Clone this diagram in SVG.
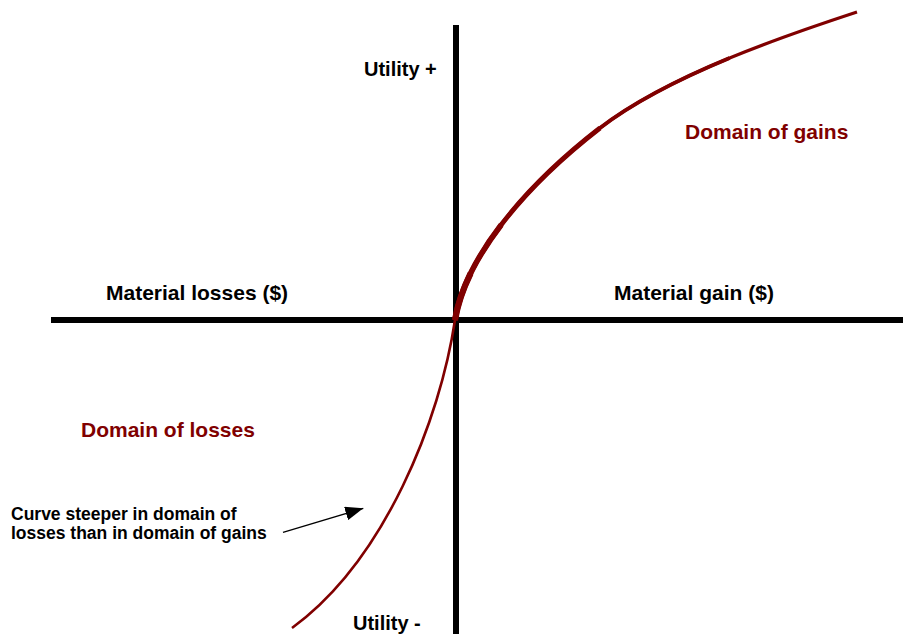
<svg xmlns="http://www.w3.org/2000/svg" width="903" height="634" viewBox="0 0 903 634">
  <style>
    .axis { stroke: #000000; stroke-width: 6; fill: none; }
    .curve { stroke: #800000; fill: none; stroke-linecap: butt; stroke-linejoin: round; }
    .lbl { font-family: "Liberation Sans", Arial, sans-serif; font-weight: bold; fill: #000000; }
    .dom { font-family: "Liberation Sans", Arial, sans-serif; font-weight: bold; fill: #800000; font-size: 21px; }
    .note { font-family: "Liberation Sans", Arial, sans-serif; font-weight: bold; fill: #000000; font-size: 17.5px; }
    .pointer { stroke: #000000; stroke-width: 1.3; fill: none; }
  </style>
  <defs>
    <marker id="head" markerUnits="userSpaceOnUse" markerWidth="18" markerHeight="14" refX="18" refY="7" orient="auto">
      <path d="M0,0 L18,7 L0,14 z" fill="#000000"/>
    </marker>
  </defs>
  <rect width="903" height="634" fill="#ffffff"/>

  <!-- axes -->
  <g id="axes">
    <line class="axis" x1="51" y1="320" x2="903" y2="320"/>
    <line class="axis" x1="456" y1="25" x2="456" y2="634"/>
  </g>

  <!-- value function: gains branch, stacked strokes so it tapers from the origin outward -->
  <g id="gain-curve">
    <path class="curve" stroke-width="3.2" d="M455,320 C465,260 520,190 600,128 C670,74 790,34 857,12"/>
    <path class="curve" stroke-width="4" d="M455,320 C465,260 520,190 600,128 C635,101 682.5,77.5 729.6,58"/>
    <path class="curve" stroke-width="4.8" d="M455,320 C465,260 520,190 600,128"/>
    <path class="curve" stroke-width="5.6" d="M455,320 C460,290 476.25,257.5 501.25,224.75"/>
    <path class="curve" stroke-width="6.2" d="M455,320 C457.5,305 462.8,289.4 470.6,273.4"/>
  </g>

  <!-- value function: losses branch -->
  <g id="loss-curve">
    <path class="curve" stroke-width="2.6" d="M455,320 C440,420 385,560 292,628"/>
  </g>

  <!-- axis labels -->
  <g id="label-utility-plus"><text class="lbl" x="364" y="76" font-size="20">Utility +</text></g>
  <g id="label-utility-minus"><text class="lbl" x="353" y="630" font-size="20">Utility -</text></g>
  <g id="label-losses"><text class="lbl" x="106" y="300" font-size="21">Material losses ($)</text></g>
  <g id="label-gain"><text class="lbl" x="614" y="300" font-size="21">Material gain ($)</text></g>

  <!-- domain labels -->
  <g id="label-domain-gains"><text class="dom" x="685" y="139">Domain of gains</text></g>
  <g id="label-domain-losses"><text class="dom" x="81" y="437">Domain of losses</text></g>

  <!-- annotation -->
  <g id="note">
    <text class="note" x="11" y="520">Curve steeper in domain of</text>
    <text class="note" x="11" y="539">losses than in domain of gains</text>
  </g>

  <g id="connectors">
    <line class="pointer" x1="283" y1="532.3" x2="363.3" y2="508.3" marker-end="url(#head)"/>
  </g>
</svg>
